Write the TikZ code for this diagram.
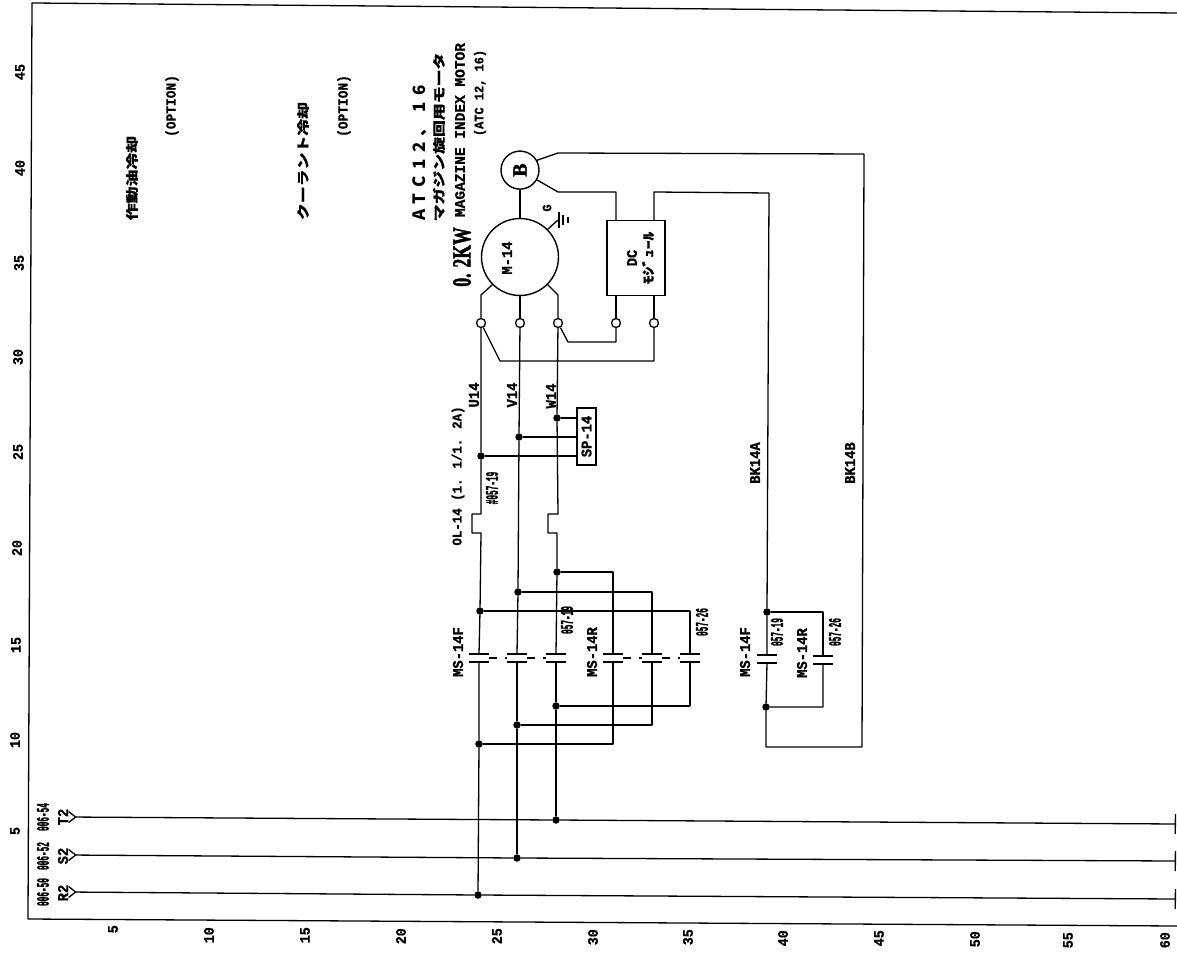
\documentclass[tikz,border=0pt]{standalone}
\usepackage{fontspec}
\setmainfont[FakeBold=1]{Liberation Mono}
\newfontfamily\narrowfont[FakeStretch=0.43,FakeBold=1]{Liberation Mono}
\newfontfamily\wirefont[FakeStretch=0.92,FakeBold=1]{Liberation Mono}
\newfontfamily\powerfont[FakeBold=2]{Liberation Serif}
\newfontfamily\cjkfont[FakeStretch=1.35,FakeBold=0.5]{Noto Sans CJK JP}
\newfontfamily\widefont[LetterSpace=38]{Noto Sans CJK JP}
\usetikzlibrary{arrows.meta,%
                positioning}

\begin{document}
\begin{tikzpicture}[x = 1pt, y = -1pt]
  \useasboundingbox (0,0) rectangle (1177,968);
  \tikzset{WireStyle/.style     = {line width      = 1.3pt,
                                   line join       = round}}
  \tikzset{HeadStyle/.style     = {WireStyle,
                                   {Straight Barb[reversed,length=7pt,width=11pt]}-}}
  \tikzset{TailStyle/.style     = {WireStyle,
                                   -{Bar[width=20pt]}}}
  \tikzset{JunctionStyle/.style = {shape           = circle,
                                   fill            = black,
                                   inner sep       = 0pt,
                                   minimum size    = 7.5pt}}
  \tikzset{TerminalStyle/.style = {shape           = circle,
                                   draw,
                                   line width      = 1.3pt,
                                   fill            = white,
                                   inner sep       = 0pt,
                                   minimum size    = 9pt}}
  \tikzset{MachineStyle/.style  = {shape           = circle,
                                   draw,
                                   line width      = 1.4pt,
                                   inner sep       = 0pt}}
  \tikzset{BoxStyle/.style      = {draw,
                                   line width      = 1.4pt,
                                   inner sep       = 0pt,
                                   outer sep       = 0pt}}
  \tikzset{ContactStyle/.style  = {minimum width   = 20pt,
                                   minimum height  = 8pt,
                                   inner sep       = 0pt,
                                   outer sep       = 0pt,
                                   append after command = {
                                     (\tikzlastnode.north west) edge[WireStyle] (\tikzlastnode.north east)
                                     (\tikzlastnode.south west) edge[WireStyle] (\tikzlastnode.south east)}}}
  \tikzset{LinkStyle/.style     = {WireStyle,
                                   dash pattern    = on 8pt off 8pt}}
  \tikzset{LabelStyle/.style    = {rotate          = 90,
                                   inner sep       = 0pt,
                                   font            = \wirefont\bfseries\fontsize{15}{15}\selectfont}}
  \tikzset{OptionStyle/.style   = {LabelStyle,
                                   font            = \wirefont\bfseries\fontsize{14}{14}\selectfont}}
  \tikzset{NarrowStyle/.style   = {rotate          = 90,
                                   inner sep       = 0pt,
                                   font            = \narrowfont\bfseries\fontsize{18}{18}\selectfont}}
  \tikzset{KanaStyle/.style     = {rotate          = 90,
                                   inner sep       = 0pt,
                                   font            = \cjkfont\bfseries\fontsize{12.5}{12.5}\selectfont}}
  \tikzset{ScaleStyle/.style    = {rotate          = 90,
                                   inner sep       = 0pt,
                                   font            = \wirefont\bfseries\fontsize{14.5}{14.5}\selectfont}}

  % frame
  \coordinate (FrameTR) at (1177,13);
  \coordinate (FrameTL) at (32,3);
  \coordinate (FrameBL) at (28,919);
  \coordinate (FrameBR) at (1177,926);
  \draw[WireStyle](FrameTR) -- (FrameTL) -- (FrameBL) -- (FrameBR);

  % scale on the left
  \node[ScaleStyle](L45) at (20,72){45};
  \node[ScaleStyle](L40) at (20,168){40};
  \node[ScaleStyle](L35) at (19,263){35};
  \node[ScaleStyle](L30) at (18,357){30};
  \node[ScaleStyle](L25) at (18,452){25};
  \node[ScaleStyle](L20) at (17,548){20};
  \node[ScaleStyle](L15) at (16,645){15};
  \node[ScaleStyle](L10) at (15,740){10};
  \node[ScaleStyle](L5) at (15,831){5};

  % scale at the bottom
  \node[ScaleStyle,anchor=east](B5) at (113,925){5};
  \node[ScaleStyle,anchor=east](B10) at (209,927){10};
  \node[ScaleStyle,anchor=east](B15) at (305,927){15};
  \node[ScaleStyle,anchor=east](B20) at (401,928){20};
  \node[ScaleStyle,anchor=east](B25) at (497,928){25};
  \node[ScaleStyle,anchor=east](B30) at (593,929){30};
  \node[ScaleStyle,anchor=east](B35) at (688,929){35};
  \node[ScaleStyle,anchor=east](B40) at (783,930){40};
  \node[ScaleStyle,anchor=east](B45) at (879,930){45};
  \node[ScaleStyle,anchor=east](B50) at (975,931){50};
  \node[ScaleStyle,anchor=east](B55) at (1068,932){55};
  \node[ScaleStyle,anchor=east](B60) at (1165,932){60};

  % option texts
  \node[KanaStyle](OilText) at (132,178){作動油冷却};
  \node[OptionStyle](OilOpt) at (172,106){(OPTION)};
  \node[KanaStyle](CoolText) at (303,161){クーラント冷却};
  \node[OptionStyle](CoolOpt) at (344,106){(OPTION)};

  % motor heading
  \node[rotate=90,inner sep=0pt,font=\widefont\bfseries\fontsize{17}{17}\selectfont](AtcText) at (420,153){ATC12、16};
  \node[KanaStyle](IndexKana) at (439,137){マガジン旋回用モータ};
  \node[LabelStyle,font=\bfseries\fontsize{14.5}{14.5}\selectfont](IndexText) at (460,130){MAGAZINE INDEX MOTOR};
  \node[OptionStyle,font=\wirefont\bfseries\fontsize{13}{13}\selectfont](IndexAtc) at (480,93){(ATC 12, 16)};
  \node[rotate=90,inner sep=0pt,font=\powerfont\bfseries\fontsize{26}{26}\selectfont](PowerText) at (462,257){\scalebox{.68}[1]{0. 2KW}};

  % motor, brake and module
  \node[MachineStyle,minimum size=77pt](Motor) at (520,257){};
  \node[LabelStyle](MotorName) at (507,258){M-14};
  \node[MachineStyle,minimum size=38pt,above=28pt of Motor](Brake){\rotatebox{90}{\powerfont\bfseries\fontsize{20}{20}\selectfont B}};
  \node[BoxStyle,minimum width=58pt,minimum height=75pt](Module) at (636,258){};
  \node[LabelStyle](ModuleA) at (632,258){DC};
  \node[KanaStyle,font=\cjkfont\bfseries\fontsize{13}{13}\selectfont](ModuleB) at (648,258){ﾓｼﾞｭｰﾙ};

  % terminals
  \node[TerminalStyle](TermU) at (481,323){};
  \node[TerminalStyle](TermV) at (520,323){};
  \node[TerminalStyle](TermW) at (558,323){};
  \node[TerminalStyle](TermA) at (616,323){};
  \node[TerminalStyle](TermB) at (654,323){};

  \coordinate (LegU) at (481,295);
  \coordinate (LegW) at (558,295);
  \draw[WireStyle](Motor.-135) -- (LegU) -- (TermU);
  \draw[WireStyle](Motor.south) -- (TermV);
  \draw[WireStyle](Motor.-45) -- (LegW) -- (TermW);
  \draw[WireStyle](Brake) -- (Motor);
  \draw[WireStyle](Module.south -| TermA) -- (TermA);
  \draw[WireStyle](Module.south -| TermB) -- (TermB);
  \coordinate (TieUa) at (500,361);
  \coordinate (TieUb) at (654,361);
  \draw[WireStyle](TermU) -- (TieUa) -- (TieUb) -- (TermB);
  \coordinate (TieWa) at (568,342);
  \coordinate (TieWb) at (616,342);
  \draw[WireStyle](TermW) -- (TieWa) -- (TieWb) -- (TermA);

  % earth
  \coordinate (Earth) at (558,220);
  \draw[WireStyle](Motor.45) -- (Earth);
  \draw[WireStyle](Earth)+(1,-8) -- +(1,8);
  \draw[WireStyle](Earth)+(5,-5) -- +(5,5);
  \draw[WireStyle](Earth)+(10,-3) -- +(10,3);
  \node[LabelStyle,font=\wirefont\bfseries\fontsize{13}{13}\selectfont](EarthName) at (547,208){G};

  % brake wiring
  \coordinate (BrakeAa) at (558,192);
  \coordinate (BrakeAb) at (616,192);
  \draw[WireStyle](Brake.-30) -- (BrakeAa) -- (BrakeAb) -- (Module.north -| BrakeAb);
  \coordinate (BrakeBa) at (558,153);
  \coordinate (BrakeBb) at (864,154);
  \coordinate (BrakeBc) at (862,747);
  \coordinate (BrakeBd) at (766,747);
  \node[JunctionStyle](JBrelF) at (767,612){};
  \node[JunctionStyle](JBrelR) at (766,707){};
  \node[ContactStyle](CBF) at (767,659){};
  \node[ContactStyle](CBR) at (823,660){};
  \coordinate (BrelA) at (654,192);
  \coordinate (BrelB) at (769,193);
  \coordinate (BrelC) at (823,612);
  \coordinate (BrelD) at (823,707);
  \draw[WireStyle](Brake.30) -- (BrakeBa) -- (BrakeBb) -- (BrakeBc) -- (BrakeBd) -- (JBrelR);
  \draw[WireStyle](Module.north -| BrelA) -- (BrelA) -- (BrelB) -- (JBrelF) -- (CBF.north);
  \draw[WireStyle](CBF.south) -- (JBrelR) -- (BrelD) -- (CBR.south);
  \draw[WireStyle](CBR.north) -- (BrelC) -- (JBrelF);

  % phase lines
  \coordinate (HeadT) at (68,817);
  \coordinate (HeadS) at (68,855);
  \coordinate (HeadR) at (68,892);
  \coordinate (EndT) at (1176,824);
  \coordinate (EndS) at (1176,861);
  \coordinate (EndR) at (1176,899);
  \node[JunctionStyle](JWp) at (556,820){};
  \node[JunctionStyle](JVp) at (517,858){};
  \node[JunctionStyle](JUp) at (478,895){};
  \draw[HeadStyle](HeadT) -- (JWp);
  \draw[TailStyle](JWp) -- (EndT);
  \draw[HeadStyle](HeadS) -- (JVp);
  \draw[TailStyle](JVp) -- (EndS);
  \draw[HeadStyle](HeadR) -- (JUp);
  \draw[TailStyle](JUp) -- (EndR);
  \node[LabelStyle](NameT) at (63,817){T2};
  \node[LabelStyle](NameS) at (63,856){S2};
  \node[LabelStyle](NameR) at (63,893){R2};
  \node[NarrowStyle](RefT) at (43,817){006-54};
  \node[NarrowStyle](RefS) at (43,856){006-52};
  \node[NarrowStyle](RefR) at (43,892){006-50};

  % main contacts
  \node[ContactStyle](CF1) at (479,658){};
  \node[ContactStyle](CF2) at (517,658){};
  \node[ContactStyle](CF3) at (556,658){};
  \node[ContactStyle](CR1) at (613,658){};
  \node[ContactStyle](CR2) at (652,658){};
  \node[ContactStyle](CR3) at (690,658){};
  \draw[LinkStyle](CF1.east) -- (CF2.west);
  \draw[LinkStyle](CF2.east) -- (CF3.west);
  \draw[LinkStyle](CR1.east) -- (CR2.west);
  \draw[LinkStyle](CR2.east) -- (CR3.west);

  % branch points
  \node[JunctionStyle](JWsp) at (557,418){};
  \node[JunctionStyle](JVsp) at (519,437){};
  \node[JunctionStyle](JUsp) at (481,456){};
  \node[JunctionStyle](JWf) at (557,572){};
  \node[JunctionStyle](JVf) at (518,592){};
  \node[JunctionStyle](JUf) at (480,611){};
  \node[JunctionStyle](JWr) at (556,706){};
  \node[JunctionStyle](JVr) at (517,725){};
  \node[JunctionStyle](JUr) at (479,744){};

  % overload steps
  \coordinate (OlUa) at (481,514);
  \coordinate (OlUb) at (472,514);
  \coordinate (OlUc) at (472,533);
  \coordinate (OlUd) at (481,533);
  \coordinate (OlWa) at (558,514);
  \coordinate (OlWb) at (548,514);
  \coordinate (OlWc) at (548,533);
  \coordinate (OlWd) at (557,533);

  \draw[WireStyle](TermU) -- (JUsp) -- (OlUa) -- (OlUb) -- (OlUc) -- (OlUd) -- (JUf) -- (CF1.north);
  \draw[WireStyle](CF1.south) -- (JUr) -- (JUp);
  \draw[WireStyle](TermV) -- (JVsp) -- (JVf) -- (CF2.north);
  \draw[WireStyle](CF2.south) -- (JVr) -- (JVp);
  \draw[WireStyle](TermW) -- (JWsp) -- (OlWa) -- (OlWb) -- (OlWc) -- (OlWd) -- (JWf) -- (CF3.north);
  \draw[WireStyle](CF3.south) -- (JWr) -- (JWp);

  % ties to the reverse contacts
  \draw[WireStyle](JWf) -- (JWf -| CR1) -- (CR1.north);
  \draw[WireStyle](JVf) -- (JVf -| CR2) -- (CR2.north);
  \draw[WireStyle](JUf) -- (JUf -| CR3) -- (CR3.north);
  \draw[WireStyle](JUr) -- (JUr -| CR1) -- (CR1.south);
  \draw[WireStyle](JVr) -- (JVr -| CR2) -- (CR2.south);
  \draw[WireStyle](JWr) -- (JWr -| CR3) -- (CR3.south);

  % surge unit
  \node[BoxStyle,minimum width=19pt,minimum height=57pt](Surge) at (586.5,436.5){\rotatebox{90}{\wirefont\bfseries\fontsize{15}{15}\selectfont SP-14}};
  \draw[WireStyle](JWsp) -- (JWsp -| Surge.west);
  \draw[WireStyle](JVsp) -- (JVsp -| Surge.west);
  \draw[WireStyle](JUsp) -- (JUsp -| Surge.west);

  % wire names
  \node[LabelStyle](NameU) at (474,395){U14};
  \node[LabelStyle](NameV) at (512,395){V14};
  \node[LabelStyle](NameW) at (551,396){W14};
  \node[LabelStyle,font=\wirefont\bfseries\fontsize{13.5}{13.5}\selectfont](NameOl) at (458,476){OL-14 (1. 1/1. 2A)};
  \node[NarrowStyle](RefOl) at (492,488){\#057-19};
  \node[LabelStyle](NameMsF) at (458,652){MS-14F};
  \node[NarrowStyle](RefMsF) at (567,620){057-19};
  \node[LabelStyle](NameMsR) at (592,652){MS-14R};
  \node[NarrowStyle](RefMsR) at (702,622){057-26};
  \node[LabelStyle](NameBF) at (745,652){MS-14F};
  \node[NarrowStyle](RefBF) at (777,632){057-19};
  \node[LabelStyle](NameBR) at (802,653){MS-14R};
  \node[NarrowStyle](RefBR) at (835,632){057-26};
  \node[LabelStyle](NameBa) at (755,463){BK14A};
  \node[LabelStyle](NameBb) at (850,463){BK14B};
\end{tikzpicture}
\end{document}
